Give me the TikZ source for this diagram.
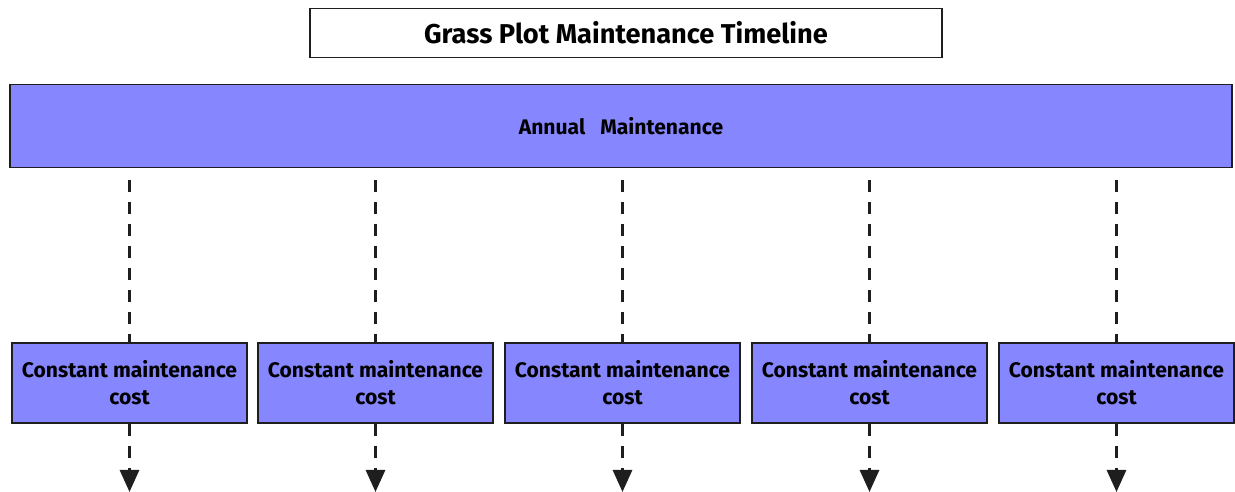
\documentclass[tikz,border=0pt]{standalone}
\usepackage{fontspec}
\setmainfont{Fira Sans}
\usetikzlibrary{arrows.meta}
\definecolor{planblue}{RGB}{134,134,255}
\definecolor{inkgray}{RGB}{30,30,30}

\begin{document}
\begin{tikzpicture}[x=0.02cm, y=-0.02cm,
  titlebox/.style={draw=inkgray, fill=white, line width=1.1pt, minimum width=12.64cm, minimum height=0.98cm, font=\fontsize{15.5}{17}\selectfont\bfseries},
  barbox/.style={draw=inkgray, fill=planblue, line width=1.1pt, minimum width=24.44cm, minimum height=1.66cm, font=\fontsize{12}{14}\selectfont\bfseries},
  costbox/.style={draw=inkgray, fill=planblue, line width=1.1pt, minimum width=4.7cm, minimum height=1.6cm, inner sep=1pt, align=center, font=\fontsize{12}{15.5}\selectfont\bfseries},
  link/.style={draw=inkgray, line width=1.7pt, dash pattern=on 0.24cm off 0.2cm},
  flow/.style={link, -{Triangle[width=0.38cm, length=0.44cm]}}]

\useasboundingbox (0, 0) rectangle (1235, 492);

\node[titlebox] (title) at (626, 33) {Grass Plot Maintenance Timeline};
\node[barbox] (annual) at (621, 126) {Annual~~~Maintenance};

\node[costbox] (cost1) at (129.5, 383) {Constant maintenance\\cost};
\node[costbox] (cost2) at (375.5, 383) {Constant maintenance\\cost};
\node[costbox] (cost3) at (622.5, 383) {Constant maintenance\\cost};
\node[costbox] (cost4) at (869.5, 383) {Constant maintenance\\cost};
\node[costbox] (cost5) at (1116.5, 383) {Constant maintenance\\cost};

\coordinate (end1) at (129.5, 492);
\coordinate (end2) at (375.5, 492);
\coordinate (end3) at (622.5, 492);
\coordinate (end4) at (869.5, 492);
\coordinate (end5) at (1116.5, 492);

% from the bar down to each cost
\draw[link, shorten <=0.24cm] (annual.south -| cost1.north) -- (cost1.north);
\draw[link, shorten <=0.24cm] (annual.south -| cost2.north) -- (cost2.north);
\draw[link, shorten <=0.24cm] (annual.south -| cost3.north) -- (cost3.north);
\draw[link, shorten <=0.24cm] (annual.south -| cost4.north) -- (cost4.north);
\draw[link, shorten <=0.24cm] (annual.south -| cost5.north) -- (cost5.north);

\draw[flow] (cost1.south) -- (end1);
\draw[flow] (cost2.south) -- (end2);
\draw[flow] (cost3.south) -- (end3);
\draw[flow] (cost4.south) -- (end4);
\draw[flow] (cost5.south) -- (end5);

\end{tikzpicture}
\end{document}
